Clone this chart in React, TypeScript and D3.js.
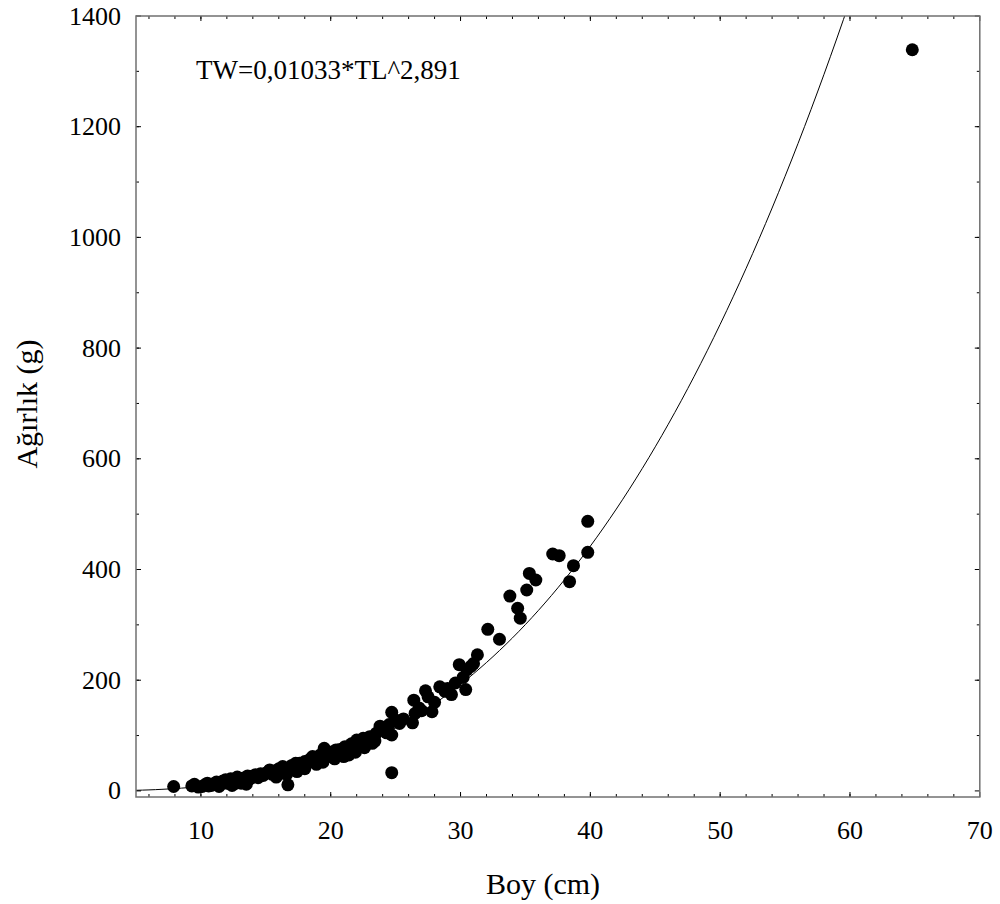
import React from "react";
import * as d3 from "d3";

// Length (cm) and weight (g) observations
const lengths = [
  7.9, 9.3, 9.5, 9.8, 10.1, 10.3, 10.5, 10.6, 10.8, 11.0, 11.2, 11.3, 11.4, 11.5, 11.7, 11.9,
  12.0, 12.1, 12.3, 12.4, 12.5, 12.6, 12.8, 13.0, 13.1, 13.2, 13.4, 13.5, 13.6, 13.8, 14.0,
  14.2, 14.4, 14.6, 14.8, 15.0, 15.2, 15.3, 15.5, 15.7, 15.8, 15.9, 16.0, 16.2, 16.3, 16.5,
  16.6, 16.7, 16.8, 17.0, 17.2, 17.3, 17.4, 17.5, 17.6, 17.8, 18.0, 18.0, 18.2, 18.4, 18.6,
  18.6, 18.8, 18.9, 19.0, 19.2, 19.4, 19.5, 19.6, 19.8, 20.0, 20.2, 20.3, 20.4, 20.7, 20.9,
  21.0, 21.1, 21.4, 21.6, 21.8, 21.9, 22.0, 22.2, 22.5, 22.6, 22.8, 23.0, 23.2, 23.4, 23.5,
  23.8, 24.0, 24.3, 24.5, 24.7, 24.7, 24.7, 25.0, 25.3, 25.6, 26.3, 26.4, 26.5, 26.8, 27.0,
  27.3, 27.5, 27.8, 28.0, 28.4, 28.8, 29.0, 29.3, 29.6, 29.9, 30.2, 30.4, 30.5, 30.8, 31.0,
  31.3, 32.1, 33.0, 33.8, 34.4, 34.6, 35.1, 35.3, 35.8, 37.1, 37.6, 38.4, 38.7, 39.8, 39.8,
  64.8,
];
const weights = [
  8, 9, 12, 7, 8, 11, 14, 9, 10, 13, 16, 11, 8, 12, 18, 20,
  14, 15, 22, 10, 17, 13, 25, 20, 14, 23, 18, 12, 27, 22, 27,
  29, 24, 31, 28, 32, 35, 38, 30, 36, 25, 28, 40, 34, 44, 38,
  30, 11, 42, 46, 40, 50, 35, 45, 50, 48, 53, 40, 50, 57, 56,
  62, 60, 48, 58, 65, 52, 77, 68, 62, 70, 66, 58, 74, 75, 70,
  62, 80, 65, 85, 80, 70, 92, 84, 95, 78, 90, 98, 86, 90, 104,
  117, 110, 105, 120, 101, 142, 33, 128, 122, 130, 123, 164, 140, 150, 145,
  181, 170, 143, 160, 188, 180, 185, 174, 195, 228, 205, 183, 219, 225, 230,
  246, 292, 274, 352, 330, 312, 363, 393, 381, 428, 425, 378, 407, 487, 431,
  1339,
];

// Fitted length-weight relation TW = a * TL^b
const fitA = 0.01033;
const fitB = 2.891;
const fitLengths = d3.range(5, 61, 0.5);

const xTicksMajor = [10, 20, 30, 40, 50, 60, 70];
const xTicksMinor = d3.range(6, 70, 2);
const yTicksMajor = [0, 200, 400, 600, 800, 1000, 1200, 1400];
const yTicksMinor = d3.range(100, 1400, 100);

const equationText = "TW=0,01033*TL^2,891";
const xTitle = "Boy (cm)";
const yTitle = "Ağırlık (g)";

const W = 1000;
const H = 904;
const L = 136;
const R = 979.8;
const T = 16;
const B = 797;

export default function App() {
  const x = d3.scaleLinear().domain([5, 70]).range([L, R]);
  const y = d3.scaleLinear().domain([-11, 1400]).range([B, T]);
  const font = "'Liberation Serif', 'Times New Roman', serif";

  const curve = d3
    .line<number>()
    .x((d) => x(d))
    .y((d) => y(fitA * Math.pow(d, fitB)))(fitLengths);

  const pts = lengths.map((l, i) => ({ l, w: weights[i] }));

  return (
    <svg
      width={W}
      height={H}
      style={{ position: "absolute", left: 0, top: 0, background: "#fff" }}
    >
      <defs>
        <clipPath id="plotClip">
          <rect x={L} y={T} width={R - L} height={B - T} />
        </clipPath>
      </defs>
      <rect x={0} y={0} width={W} height={H} fill="#fff" />

      {/* data points */}
      <g clipPath="url(#plotClip)">
        {pts.map((p, i) => (
          <circle key={i} cx={x(p.l)} cy={y(p.w)} r={6.5} fill="#000" />
        ))}
        <path d={curve || ""} fill="none" stroke="#000" strokeWidth={1} />
      </g>

      {/* ticks */}
      <g stroke="#000" strokeWidth={1}>
        {xTicksMinor.map((t) => (
          <g key={"xm" + t}>
            <line x1={x(t)} x2={x(t)} y1={B} y2={B - 3} />
            <line x1={x(t)} x2={x(t)} y1={T} y2={T + 3} />
          </g>
        ))}
        {xTicksMajor.map((t) => (
          <g key={"xM" + t}>
            <line x1={x(t)} x2={x(t)} y1={B} y2={B - 5} />
            <line x1={x(t)} x2={x(t)} y1={T} y2={T + 5} />
          </g>
        ))}
        {yTicksMinor.map((t) => (
          <g key={"ym" + t}>
            <line x1={L} x2={L + 3} y1={y(t)} y2={y(t)} />
            <line x1={R} x2={R - 3} y1={y(t)} y2={y(t)} />
          </g>
        ))}
        {yTicksMajor.map((t) => (
          <g key={"yM" + t}>
            <line x1={L} x2={L + 5} y1={y(t)} y2={y(t)} />
            <line x1={R} x2={R - 5} y1={y(t)} y2={y(t)} />
          </g>
        ))}
      </g>

      {/* frame */}
      <rect
        x={L}
        y={T}
        width={R - L}
        height={B - T}
        fill="none"
        stroke="#707070"
        strokeWidth={1.5}
      />

      {/* tick labels */}
      <g fontFamily={font} fontSize={26} fill="#000">
        {xTicksMajor.map((t) => (
          <text key={"xl" + t} x={x(t)} y={830} textAnchor="middle" dominantBaseline="central">
            {t}
          </text>
        ))}
        {yTicksMajor.map((t) => (
          <text key={"yl" + t} x={121} y={y(t)} textAnchor="end" dominantBaseline="central">
            {t}
          </text>
        ))}
      </g>

      {/* titles */}
      <text
        x={543}
        y={883}
        textAnchor="middle"
        dominantBaseline="central"
        fontFamily={font}
        fontSize={30}
      >
        {xTitle}
      </text>
      <text
        transform={`translate(26, 404) rotate(-90)`}
        textAnchor="middle"
        dominantBaseline="central"
        fontFamily={font}
        fontSize={30}
      >
        {yTitle}
      </text>

      <text x={196} y={70} dominantBaseline="central" fontFamily={font} fontSize={27}>
        {equationText}
      </text>
    </svg>
  );
}
